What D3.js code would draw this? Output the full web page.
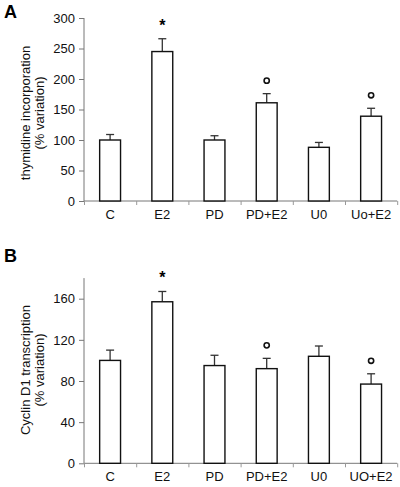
<!DOCTYPE html>
<html><head><meta charset="utf-8">
<script src="https://cdn.jsdelivr.net/npm/d3@7"></script>
<style>body{margin:0;background:#fff}svg{display:block}text{font-family:Arial,"Liberation Sans",sans-serif}</style>
</head><body>
<script>
const categoriesA = ["C","E2","PD","PD+E2","U0","Uo+E2"];
const valuesA = [100,245,100,161,88,139];
const errorsA = [9,21,7,15,8,13];
const marksA = ["","*","","°","","°"];
const ticksA = [0,50,100,150,200,250,300];

const categoriesB = ["C","E2","PD","PD+E2","U0","UO+E2"];
const valuesB = [100,157,95,92,104,77];
const errorsB = [10,10,10,10,10,10];
const marksB = ["","*","","°","","°"];
const ticksB = [0,40,80,120,160];

const svg = d3.select("body").append("svg").attr("width",400).attr("height",487);

function panel(o){
  const g = svg.append("g");
  const x = d3.scaleBand().domain(o.cats).range([84,397.2]).paddingInner(0.6).paddingOuter(0.3);
  const y = d3.scaleLinear().domain([0,o.ymax]).range([o.y0,o.ytop]);
  g.append("text").attr("x",4).attr("y",o.letterY).attr("font-size",18).attr("font-weight","bold").text(o.letter);
  const ya = g.append("g").attr("transform","translate(84,0)")
    .call(d3.axisLeft(y).tickValues(o.ticks).tickSize(5).tickPadding(4).tickFormat(d3.format("d")));
  ya.select(".domain").attr("stroke","#777").attr("d",`M-0,${y(0)}V${y(o.ymax)}`);
  ya.selectAll(".tick line").attr("stroke","#777");
  ya.selectAll("text").attr("font-size",13).attr("fill","#111").attr("font-family","Arial, Liberation Sans, sans-serif");
  const bx = d3.scaleLinear().domain([0,o.cats.length]).range([84,397.2]);
  const xa = g.append("g").attr("transform",`translate(0,${y(0)})`)
    .call(d3.axisBottom(bx).ticks(6).tickSize(4).tickFormat(""));
  xa.select(".domain").attr("stroke","#777").attr("d",`M84,0H397.2`);
  xa.selectAll(".tick line").attr("stroke","#999");
  g.selectAll(".clab").data(o.cats).join("text")
    .attr("x",d=>x(d)+x.bandwidth()/2).attr("y",y(0)+18).attr("text-anchor","middle")
    .attr("font-size",13).attr("fill","#111").text(d=>d);
  o.cats.forEach((c,i)=>{
    const cx = x(c)+x.bandwidth()/2;
    g.append("line").attr("x1",cx).attr("x2",cx).attr("y1",y(o.vals[i])).attr("y2",y(o.vals[i]+o.errs[i])).attr("stroke","#333").attr("stroke-width",1.3);
    g.append("line").attr("x1",cx-4).attr("x2",cx+4).attr("y1",y(o.vals[i]+o.errs[i])).attr("y2",y(o.vals[i]+o.errs[i])).attr("stroke","#333").attr("stroke-width",1.3);
  });
  g.selectAll(".bar").data(o.cats).join("rect")
    .attr("x",d=>x(d)).attr("width",x.bandwidth())
    .attr("y",(d,i)=>y(o.vals[i])).attr("height",(d,i)=>y(0)-y(o.vals[i]))
    .attr("fill","#fff").attr("stroke","#111").attr("stroke-width",1.4);
  o.cats.forEach((c,i)=>{
    const cx = x(c)+x.bandwidth()/2;
    const top = y(o.vals[i]+o.errs[i]);
    if(o.marks[i]==="*"){
      g.append("text").attr("x",cx).attr("y",top-8).attr("text-anchor","middle").attr("font-size",16).attr("font-weight","bold").text("*");
    } else if(o.marks[i]){
      g.append("circle").attr("cx",cx).attr("cy",top-13).attr("r",2.6).attr("fill","none").attr("stroke","#111").attr("stroke-width",1.6);
    }
  });
  const t = g.append("text").attr("transform",`translate(0,${o.titleY}) rotate(-90)`).attr("text-anchor","middle").attr("font-size",13).attr("fill","#111");
  t.append("tspan").attr("x",0).attr("y",29.5).text(o.title);
  t.append("tspan").attr("x",0).attr("y",43.5).text("(% variation)");
}

panel({cats:categoriesA, vals:valuesA, errs:errorsA, marks:marksA, ticks:ticksA, ymax:300, y0:201, ytop:18, letter:"A", letterY:18, title:"thymidine incorporation", titleY:113});
panel({cats:categoriesB, vals:valuesB, errs:errorsB, marks:marksB, ticks:ticksB, ymax:180, y0:463.3, ytop:278.1, letter:"B", letterY:262, title:"Cyclin D1 transcription", titleY:370});
</script>
</body></html>
